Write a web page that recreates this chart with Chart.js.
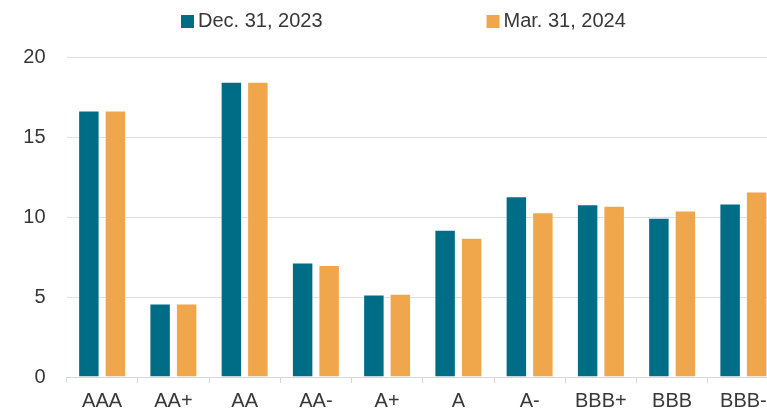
<!DOCTYPE html>
<html>
<head>
<meta charset="utf-8">
<script src="https://cdn.jsdelivr.net/npm/chart.js@4.4.1/dist/chart.umd.min.js"></script>
<style>
  html, body { margin: 0; padding: 0; background: #fff; overflow: hidden; }
  #wrap { position: relative; width: 779px; height: 412px; }
</style>
</head>
<body>
<div id="wrap"><canvas id="ratingsChart"></canvas></div>
<script>
const ratings = ['AAA', 'AA+', 'AA', 'AA-', 'A+', 'A', 'A-', 'BBB+', 'BBB', 'BBB-'];
const dec2023 = [16.65, 4.6, 18.45, 7.15, 5.15, 9.2, 11.3, 10.8, 9.95, 10.85];
const mar2024 = [16.65, 4.6, 18.45, 7.0, 5.2, 8.7, 10.3, 10.7, 10.4, 11.6];
const yTicks = [0, 5, 10, 15, 20];

const FONT = '"Liberation Sans", Arial, sans-serif';
const TEXT = '#383838';

// legend drawn by hand so the wide gap between the two items can be kept
const topLegend = {
    id: 'topLegend',
    afterDraw(chart) {
        const ctx = chart.ctx;
        ctx.save();
        ctx.font = '20px ' + FONT;
        ctx.textBaseline = 'middle';
        let x = 181;
        chart.data.datasets.forEach(ds => {
            ctx.fillStyle = ds.backgroundColor;
            ctx.fillRect(x, 15, 13, 13);
            ctx.fillStyle = TEXT;
            ctx.fillText(ds.label, x + 17, 21.5);
            x += 17 + ctx.measureText(ds.label).width + 164;
        });
        ctx.restore();
    }
};

new Chart(document.getElementById('ratingsChart').getContext('2d'), {
    type: 'bar',
    data: {
        labels: ratings,
        datasets: [{
            label: 'Dec. 31, 2023',
            data: dec2023,
            backgroundColor: '#006d87',
            borderColor: 'rgba(255,255,255,0.4)',
            borderWidth: 1,
            categoryPercentage: 0.744,
            barPercentage: 0.81
        }, {
            label: 'Mar. 31, 2024',
            data: mar2024,
            backgroundColor: '#f0a64b',
            borderColor: 'rgba(255,255,255,0.4)',
            borderWidth: 1,
            categoryPercentage: 0.744,
            barPercentage: 0.81
        }]
    },
    options: {
        responsive: true,
        maintainAspectRatio: false,
        animation: false,
        layout: { padding: { top: 57, left: 0, right: 0, bottom: 0 } },
        plugins: {
            legend: { display: false },
            tooltip: { enabled: false }
        },
        scales: {
            x: {
                afterFit: axis => { axis.height = 35; },
                grid: {
                    drawOnChartArea: false,
                    drawTicks: true,
                    tickLength: 6,
                    color: '#d6d6d6'
                },
                border: { color: '#d6d6d6', width: 1 },
                ticks: {
                    color: TEXT,
                    padding: 6,
                    font: { family: FONT, size: 20 },
                    maxRotation: 0,
                    autoSkip: false
                }
            },
            y: {
                min: 0,
                max: 20,
                afterBuildTicks: axis => { axis.ticks = yTicks.map(v => ({ value: v })); },
                afterFit: axis => { axis.width = 66.5; },
                grid: {
                    drawTicks: false,
                    color: '#dedede'
                },
                border: { display: false },
                ticks: {
                    color: TEXT,
                    padding: 21,
                    font: { family: FONT, size: 20 }
                }
            }
        }
    },
    plugins: [topLegend]
});
</script>
</body>
</html>
